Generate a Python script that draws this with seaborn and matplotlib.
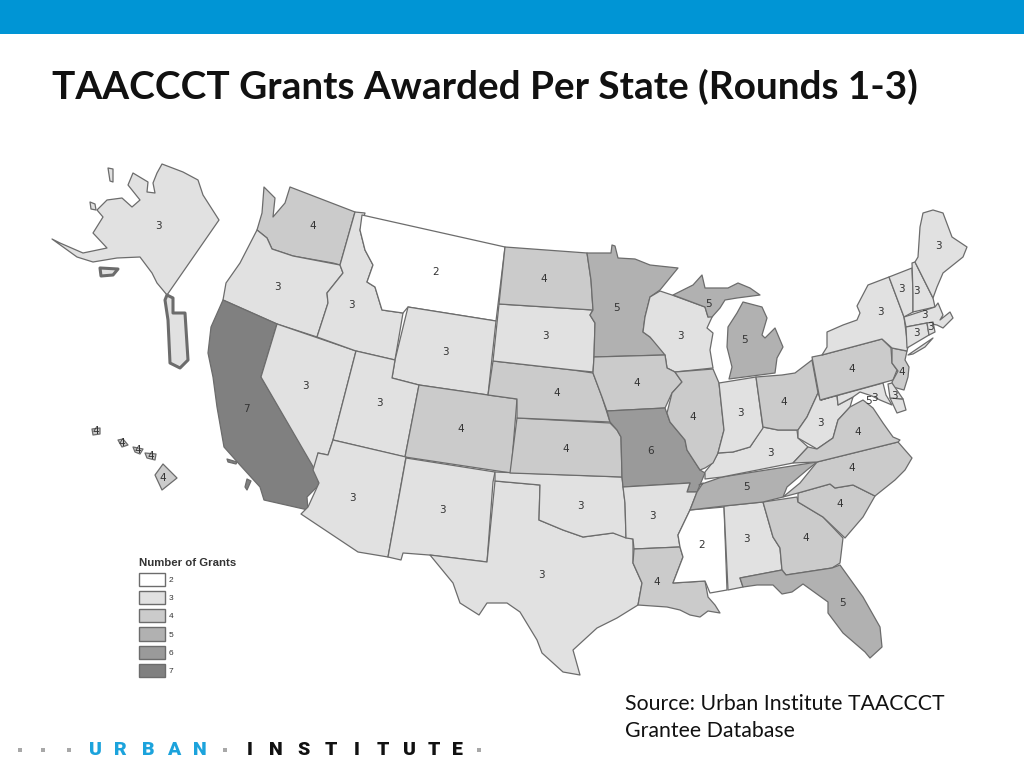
import matplotlib
matplotlib.use("Agg")
import matplotlib.pyplot as plt
from matplotlib.patches import Patch, Polygon
import seaborn as sns

# --- Grants per state ---
STATE_NAMES = ["WA", "OR", "CA", "NV", "ID", "MT", "WY", "UT", "CO", "AZ", "NM", "TX", "OK", "KS", "NE",
               "SD", "ND", "MN", "WI", "IA", "MO", "AR", "LA", "MS", "AL", "GA", "FL", "SC", "NC", "TN",
               "KY", "IL", "IN", "OH", "WV", "VA", "MD", "PA", "NJ", "NY", "VT", "NH", "ME", "MA", "CT",
               "RI", "DE", "MI", "AK", "HI"]
GRANTS = [4, 3, 7, 3, 3, 2, 3, 3, 4, 3, 3, 3, 3, 4, 4,
          3, 4, 5, 3, 4, 6, 3, 4, 2, 3, 4, 5, 4, 4, 5,
          3, 4, 3, 4, 3, 4, 3, 4, 4, 3, 3, 3, 3, 3, 3,
          3, 3, 5, 3, 4]
LABEL_X = [313, 277, 246, 305, 351, 436, 445, 379, 461, 352, 442, 541, 580, 566, 557,
           545, 544, 617, 680, 637, 651, 652, 657, 702, 746, 806, 842, 840, 852, 746,
           770, 693, 740, 784, 820, 858, 874, 852, 902, 880, 901, 916, 938, 924, 916,
           930, 894, 744, 158, 163]
LABEL_Y = [226, 287, 409, 386, 305, 272, 352, 403, 429, 498, 510, 575, 506, 449, 393,
           336, 279, 308, 336, 383, 451, 516, 582, 545, 539, 538, 603, 504, 468, 487,
           453, 417, 413, 402, 423, 432, 398, 369, 372, 312, 289, 291, 246, 315, 333,
           327, 396, 340, 226, 478]

# extra labels: Michigan upper, DC, small Hawaiian islands
EXTRA_LABEL_TEXT = ["5", "5", "4", "4", "4", "4"]
EXTRA_LABEL_X = [708, 869, 96, 122, 138, 151]
EXTRA_LABEL_Y = [304, 401, 431, 443, 450, 456]

LEGEND_LEVELS = [2, 3, 4, 5, 6, 7]
LEVEL_COLORS = ["#ffffff", "#e1e1e1", "#cbcbcb", "#b1b1b1", "#9a9a9a", "#808080"]

LOGO_LEFT = ["U", "R", "B", "A", "N"]
LOGO_LEFT_X = [95, 120, 148, 174, 200]
LOGO_RIGHT = ["I", "N", "S", "T", "I", "T", "U", "T", "E"]
LOGO_RIGHT_X = [250, 276, 304, 331, 357, 383, 409, 434, 457]
LOGO_DOT_X = [20, 43, 69, 225, 479]

# --- State outlines, traced in reference pixels ---
WA = [(264, 187), (275, 198), (273, 217), (285, 203), (290, 187), (355, 212), (340, 265), (333, 263),
      (293, 256), (272, 249), (267, 238), (257, 230), (262, 213)]
OR = [(257, 230), (267, 238), (272, 249), (293, 256), (340, 265), (343, 273), (327, 293), (328, 303),
      (317, 337), (277, 324), (223, 300), (226, 283), (240, 263)]
CA = [(223, 300), (277, 324), (261, 377), (316, 470), (319, 485), (307, 497), (308, 510), (264, 500),
      (260, 487), (240, 465), (224, 447), (217, 407), (213, 377), (208, 353), (211, 327)]
NV = [(277, 324), (356, 351), (333, 440), (328, 455), (318, 453), (315, 470), (261, 377)]
ID = [(355, 212), (365, 213), (360, 230), (365, 250), (373, 265), (367, 282), (375, 287), (382, 310),
      (403, 313), (395, 360), (356, 351), (317, 337), (328, 303), (327, 293), (343, 273), (340, 265)]
MT = [(362, 215), (505, 247), (496, 321), (408, 307), (403, 313), (382, 310), (375, 287), (367, 282),
      (373, 265), (365, 250), (360, 230)]
WY = [(408, 307), (496, 321), (488, 395), (419, 385), (392, 378), (395, 360)]
UT = [(356, 351), (395, 360), (392, 378), (419, 385), (405, 457), (333, 440)]
CO = [(419, 385), (488, 395), (517, 399), (511, 473), (405, 457)]
AZ = [(318, 453), (328, 455), (333, 440), (406, 457), (388, 557), (358, 552), (301, 514), (308, 507),
      (319, 483), (313, 470)]
NM = [(406, 458), (495, 472), (493, 482), (487, 562), (429, 555), (403, 553), (401, 560), (388, 557)]
TX = [(495, 481), (540, 485), (539, 520), (563, 530), (583, 537), (613, 533), (633, 539), (633, 563),
      (642, 583), (638, 605), (617, 618), (597, 628), (573, 650), (580, 675), (563, 672), (542, 653),
      (537, 640), (520, 612), (507, 603), (487, 603), (479, 615), (460, 603), (453, 583), (430, 555),
      (487, 562)]
OK = [(495, 472), (622, 477), (625, 503), (626, 538), (613, 533), (583, 537), (563, 530), (539, 520),
      (540, 485), (495, 481)]
KS = [(517, 418), (610, 423), (617, 430), (621, 437), (622, 477), (510, 473)]
NE = [(493, 361), (573, 370), (593, 373), (602, 397), (610, 422), (517, 418), (517, 399), (488, 395)]
SD = [(499, 304), (593, 310), (590, 315), (595, 323), (594, 357), (593, 372), (573, 370), (493, 361)]
ND = [(505, 247), (587, 253), (591, 280), (593, 310), (499, 304)]
MN = [(587, 253), (611, 253), (612, 245), (615, 246), (618, 258), (635, 259), (650, 265), (678, 268),
      (660, 290), (650, 297), (645, 317), (643, 332), (650, 337), (663, 350), (665, 355), (594, 357),
      (595, 323), (590, 315), (593, 310), (591, 280)]
WI = [(660, 291), (672, 295), (705, 307), (708, 317), (713, 315), (707, 328), (713, 333), (710, 350),
      (713, 368), (675, 372), (667, 368), (665, 355), (650, 337), (643, 332), (645, 317), (650, 297)]
IA = [(594, 357), (665, 355), (667, 368), (675, 372), (682, 382), (672, 393), (665, 408), (607, 411),
      (602, 397), (593, 373)]
MO = [(607, 411), (665, 408), (670, 422), (685, 440), (687, 450), (700, 470), (705, 473), (697, 492),
      (687, 492), (690, 483), (623, 487), (622, 477), (621, 437), (617, 430), (610, 422)]
AR = [(623, 487), (690, 483), (687, 492), (697, 492), (690, 510), (678, 535), (680, 547), (634, 549),
      (633, 539), (626, 538), (625, 503)]
LA = [(634, 549), (680, 547), (683, 557), (673, 583), (705, 581), (708, 597), (715, 605), (720, 613),
      (708, 611), (700, 617), (690, 615), (680, 610), (667, 607), (638, 605), (642, 583), (633, 563)]
MS = [(690, 510), (724, 507), (727, 590), (710, 593), (705, 581), (673, 583), (683, 557), (680, 547),
      (678, 535)]
AL = [(724, 506), (763, 502), (773, 537), (780, 548), (782, 570), (740, 578), (743, 587), (728, 590)]
GA = [(763, 502), (797, 497), (798, 502), (823, 517), (843, 538), (840, 563), (832, 568), (786, 575),
      (782, 570), (780, 548), (773, 537)]
FL = [(740, 578), (782, 570), (786, 575), (832, 568), (840, 565), (863, 597), (880, 627), (882, 647),
      (870, 658), (865, 652), (843, 633), (828, 613), (828, 602), (803, 584), (792, 592), (782, 594),
      (773, 585), (757, 585), (743, 587)]
SC = [(798, 493), (830, 484), (835, 488), (853, 485), (875, 496), (863, 517), (845, 538), (823, 517),
      (798, 502)]
NC = [(783, 497), (800, 483), (817, 462), (898, 442), (912, 458), (905, 470), (895, 480), (875, 496),
      (853, 485), (835, 488), (830, 484), (798, 493)]
TN = [(699, 485), (722, 477), (817, 462), (807, 470), (787, 487), (783, 497), (763, 502), (724, 506),
      (690, 510), (697, 492), (703, 483)]
KY = [(705, 472), (713, 462), (718, 453), (733, 452), (750, 447), (763, 427), (778, 430), (797, 430),
      (798, 438), (808, 447), (793, 463), (722, 477), (705, 479)]
IL = [(675, 372), (713, 369), (719, 383), (724, 430), (718, 453), (713, 463), (705, 468), (700, 470),
      (687, 450), (685, 440), (670, 422), (667, 413), (672, 393), (682, 382)]
IN = [(719, 383), (756, 377), (763, 428), (750, 447), (733, 452), (718, 453), (724, 430)]
OH = [(756, 377), (782, 375), (795, 373), (812, 360), (818, 393), (807, 417), (798, 430), (778, 430),
      (763, 427)]
WV = [(818, 393), (821, 400), (837, 395), (838, 405), (853, 397), (850, 407), (838, 420), (833, 438),
      (817, 449), (798, 438), (798, 430), (807, 417)]
VA = [(793, 463), (808, 447), (817, 449), (833, 438), (838, 420), (850, 407), (863, 400), (873, 408),
      (883, 423), (893, 437), (900, 440), (898, 442), (817, 462)]
MD = [(821, 400), (883, 383), (886, 395), (892, 405), (880, 400), (872, 396), (860, 392), (853, 397),
      (838, 405), (837, 395)]
MD_EAST = [(890, 398), (903, 399), (906, 410), (897, 413)]
PA = [(812, 357), (822, 355), (882, 339), (891, 348), (892, 363), (897, 370), (893, 380), (820, 400)]
NJ = [(892, 348), (907, 351), (905, 360), (909, 367), (908, 377), (904, 390), (893, 387), (892, 382),
      (898, 371), (892, 363)]
NY = [(822, 355), (827, 347), (827, 332), (843, 325), (857, 320), (860, 313), (857, 306), (868, 285),
      (889, 277), (904, 317), (908, 347), (907, 351), (892, 348), (882, 339)]
LONG_ISLAND = [(908, 355), (933, 338), (925, 347), (913, 354)]
VT = [(889, 277), (912, 268), (913, 293), (913, 312), (904, 317)]
NH = [(912, 263), (915, 262), (933, 298), (935, 307), (913, 312), (913, 293)]
ME = [(915, 262), (918, 257), (920, 227), (923, 213), (933, 210), (943, 213), (952, 237), (967, 247),
      (963, 257), (943, 273), (937, 287), (933, 298)]
MA = [(904, 317), (935, 307), (938, 303), (943, 315), (940, 320), (950, 312), (953, 318), (943, 328),
      (937, 325), (927, 323), (906, 327)]
CT = [(906, 327), (927, 323), (929, 335), (907, 348)]
RI = [(927, 323), (933, 322), (935, 332), (929, 335)]
DE = [(888, 384), (892, 383), (903, 399), (890, 398)]
MI_UPPER = [(673, 295), (693, 285), (702, 275), (705, 288), (728, 288), (738, 283), (750, 288), (760, 295),
            (737, 298), (725, 300), (720, 308), (712, 317), (708, 317), (705, 307)]
MI_LOWER = [(743, 302), (762, 307), (767, 318), (762, 335), (765, 338), (775, 328), (783, 347), (777, 358),
            (775, 373), (729, 379), (732, 367), (727, 347), (728, 327), (737, 313)]
AK = [(162, 164), (183, 172), (198, 180), (203, 195), (219, 220), (167, 295), (157, 283), (152, 273),
      (140, 257), (117, 258), (93, 262), (77, 257), (52, 239), (60, 243), (83, 253), (107, 248),
      (93, 233), (103, 217), (97, 210), (107, 200), (122, 198), (132, 207), (140, 200), (128, 185),
      (133, 173), (148, 182), (147, 192), (155, 193), (153, 183), (157, 173)]
AK_PANHANDLE = [(167, 295), (173, 298), (173, 313), (185, 313), (188, 360), (180, 368), (170, 363),
                (168, 320), (165, 300)]
AK_KODIAK = [(100, 268), (118, 269), (113, 275), (101, 276)]
AK_ISLAND_1 = [(90, 202), (95, 204), (96, 210), (91, 209)]
AK_ISLAND_2 = [(108, 168), (113, 169), (113, 182), (110, 181)]
HI = [(163, 464), (177, 478), (162, 490), (155, 475)]
HI_KAUAI = [(92, 429), (100, 428), (100, 434), (93, 435)]
HI_OAHU = [(118, 440), (123, 439), (128, 445), (122, 447)]
HI_MOLOKAI = [(133, 447), (143, 449), (140, 454), (135, 452)]
HI_MAUI = [(145, 453), (156, 454), (155, 460), (147, 458)]
CA_ISLAND_1 = [(227, 459), (237, 462), (236, 464), (228, 462)]
CA_ISLAND_2 = [(247, 479), (251, 481), (247, 490), (245, 487)]

# (outline, state it belongs to)
OUTLINES = [(WA, "WA"), (OR, "OR"), (CA, "CA"), (NV, "NV"), (ID, "ID"), (MT, "MT"), (WY, "WY"), (UT, "UT"),
            (CO, "CO"), (AZ, "AZ"), (NM, "NM"), (TX, "TX"), (OK, "OK"), (KS, "KS"), (NE, "NE"), (SD, "SD"),
            (ND, "ND"), (MN, "MN"), (WI, "WI"), (IA, "IA"), (MO, "MO"), (AR, "AR"), (LA, "LA"), (MS, "MS"),
            (AL, "AL"), (GA, "GA"), (FL, "FL"), (SC, "SC"), (NC, "NC"), (TN, "TN"), (KY, "KY"), (IL, "IL"),
            (IN, "IN"), (OH, "OH"), (WV, "WV"), (VA, "VA"), (MD, "MD"), (MD_EAST, "MD"), (PA, "PA"), (NJ, "NJ"),
            (NY, "NY"), (LONG_ISLAND, "NY"), (VT, "VT"), (NH, "NH"), (ME, "ME"), (MA, "MA"), (CT, "CT"), (RI, "RI"),
            (DE, "DE"), (MI_UPPER, "MI"), (MI_LOWER, "MI"), (AK, "AK"), (AK_PANHANDLE, "AK"), (AK_KODIAK, "AK"),
            (AK_ISLAND_1, "AK"), (AK_ISLAND_2, "AK"), (HI, "HI"), (HI_KAUAI, "HI"), (HI_OAHU, "HI"),
            (HI_MOLOKAI, "HI"), (HI_MAUI, "HI"), (CA_ISLAND_1, "CA"), (CA_ISLAND_2, "CA")]

EDGE_COLOR = "#6c6c6c"
BAR_COLOR = "#0095d5"

sns.set_theme(style="white")
plt.rcParams['font.family'] = ['Lato', 'DejaVu Sans']
palette = dict(zip(LEGEND_LEVELS, sns.color_palette(LEVEL_COLORS)))
grants_by_state = dict(zip(STATE_NAMES, GRANTS))

fig, ax = plt.subplots(figsize=(10.24, 7.68), dpi=100)
fig.subplots_adjust(left=0, right=1, top=1, bottom=0)
ax.set_xlim(0, 1024)
ax.set_ylim(768, 0)
ax.axis("off")

ax.axhspan(0, 34, color=BAR_COLOR, lw=0)
ax.text(52, 87, "TAACCCT Grants Awarded Per State (Rounds 1-3)", fontsize=27.9, fontweight="bold",
        color="#111111", va="center", ha="left")

for outline, state in OUTLINES:
    # the island-heavy bits of Alaska read as a thick dark scribble in the original
    heavy = outline is AK_PANHANDLE or outline is AK_KODIAK
    ax.add_patch(Polygon(outline, closed=True, facecolor=palette[grants_by_state[state]],
                         edgecolor=EDGE_COLOR, linewidth=2.2 if heavy else 0.9, joinstyle="round"))

for x, y, n in zip(LABEL_X, LABEL_Y, GRANTS):
    ax.text(x, y, str(n), fontsize=7.5, color="#333333", ha="center", va="center", family="DejaVu Sans")
for x, y, s in zip(EXTRA_LABEL_X, EXTRA_LABEL_Y, EXTRA_LABEL_TEXT):
    ax.text(x, y, s, fontsize=7.5, color="#333333", ha="center", va="center", family="DejaVu Sans")

handles = [Patch(facecolor=palette[lv], edgecolor=EDGE_COLOR, linewidth=1.0, label=str(lv)) for lv in LEGEND_LEVELS]
leg = ax.legend(handles=handles, title="Number of Grants", loc="upper left", bbox_to_anchor=(139 / 1024, 1 - 558 / 768),
                frameon=False, fontsize=6, handlelength=3.1, handleheight=2.05, labelspacing=0.6, handletextpad=0.5,
                borderaxespad=0, borderpad=0, alignment="left",
                title_fontproperties={"family": "Liberation Sans", "size": 8.2, "weight": "bold"})
leg.get_title().set_color("#333333")
for t in leg.get_texts():
    t.set_family("Liberation Sans")
    t.set_color("#333333")

ax.text(625, 704, "Source: Urban Institute TAACCCT", fontsize=15.3, color="#111111", va="center", ha="left")
ax.text(625, 731, "Grantee Database", fontsize=15.3, color="#111111", va="center", ha="left")

# logo along the bottom
logo_font = ['Roboto', 'DejaVu Sans']
for x, s in zip(LOGO_LEFT_X, LOGO_LEFT):
    ax.text(x, 750, s, fontsize=14, fontweight=900, color="#1ca3dc", ha="center", va="center", family=logo_font)
for x, s in zip(LOGO_RIGHT_X, LOGO_RIGHT):
    ax.text(x, 750, s, fontsize=14, fontweight=900, color="#111111", ha="center", va="center", family=logo_font)
sns.scatterplot(x=LOGO_DOT_X, y=[750] * len(LOGO_DOT_X), marker="s", s=9, color="#a8a8a8", linewidth=0, ax=ax, legend=False)

fig.savefig("out.png", dpi=100)
